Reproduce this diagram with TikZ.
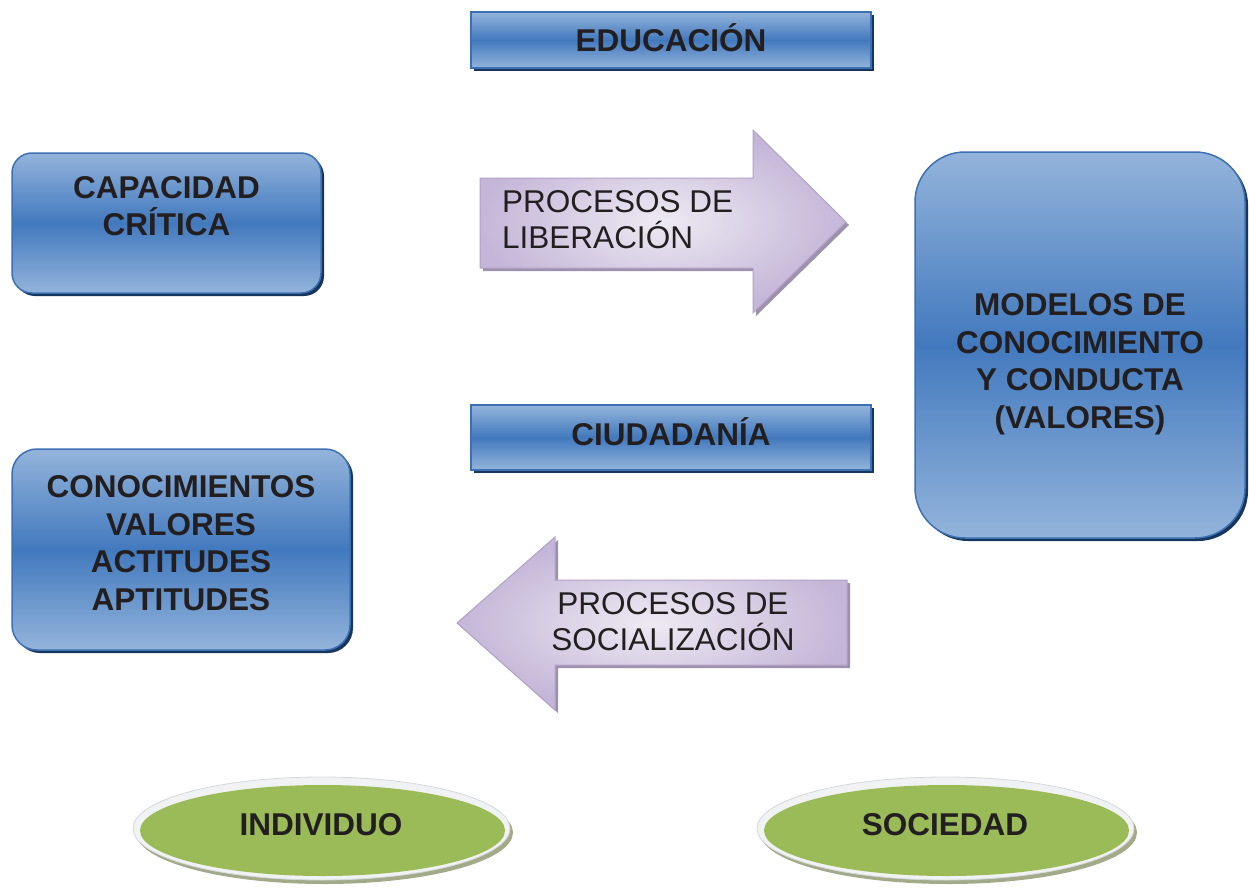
\documentclass[tikz,border=0pt]{standalone}
\usepackage{fontspec}
\setmainfont{Liberation Sans}
\usetikzlibrary{shadows,shapes.geometric}
\definecolor{bluetop}{HTML}{93B4DB}
\definecolor{bluemid}{HTML}{4279BE}
\definecolor{blueedge}{HTML}{3D70B3}
\definecolor{blueshadow}{HTML}{17365D}
\definecolor{lavlight}{HTML}{EEEAF3}
\definecolor{lavdark}{HTML}{C4B6D8}
\definecolor{lavedge}{HTML}{B3A2C7}
\definecolor{lavshadow}{HTML}{9D91AD}
\definecolor{greenfill}{HTML}{9BBB59}
\definecolor{rimc}{HTML}{F1F2F3}
\definecolor{rimedge}{HTML}{D5D8DB}
\definecolor{greenshadow}{HTML}{A2AA8A}
\definecolor{textc}{HTML}{231F20}
\begin{document}
\begin{tikzpicture}[x=1pt,y=-1pt,
  bluebox/.style={draw=blueedge, line width=1.5pt, top color=bluetop, bottom color=bluetop, middle color=bluemid, inner sep=0pt,
    general shadow={fill=blueshadow, shadow xshift=3pt, shadow yshift=-3pt}},
  boldtxt/.style={font=\fontsize{31.5}{37.5}\selectfont\bfseries, text=textc, align=center, inner sep=0pt},
  plaintxt/.style={font=\fontsize{31.5}{36}\selectfont, text=textc, inner sep=0pt},
  lavarrow/.style={draw=lavedge, line width=1pt, inner color=lavlight, outer color=lavdark,
    general shadow={fill=lavshadow, shadow xshift=3pt, shadow yshift=-3pt}},
  rimell/.style={ellipse, draw=rimedge, line width=0.8pt, fill=rimc, inner sep=0pt, minimum width=377pt, minimum height=103pt,
    general shadow={fill=greenshadow, shadow xshift=3pt, shadow yshift=-4pt}},
  greenell/.style={ellipse, fill=greenfill, inner sep=0pt, minimum width=365pt, minimum height=91pt}
]
\useasboundingbox (0,0) rectangle (1249,888);

% blue boxes
\node[bluebox, minimum width=400pt, minimum height=56pt] (edu) at (671,40) {};
\node[boldtxt] (eduT) at (671,38) {EDUCACIÓN};
\node[bluebox, minimum width=400pt, minimum height=65pt] (ciu) at (671,437.5) {};
\node[boldtxt] (ciuT) at (671,432) {CIUDADANÍA};
\node[bluebox, rounded corners=20pt, minimum width=309pt, minimum height=140pt] (cap) at (166.5,223) {};
\node[boldtxt] (capT) at (166.5,206) {CAPACIDAD\\CRÍTICA};
\node[bluebox, rounded corners=25pt, minimum width=338pt, minimum height=201pt] (con) at (181,549.5) {};
\node[boldtxt] (conT) at (181,543) {CONOCIMIENTOS\\VALORES\\ACTITUDES\\APTITUDES};
\node[bluebox, rounded corners=50pt, minimum width=330pt, minimum height=386pt] (mod) at (1080,345) {};
\node[boldtxt] (modT) at (1080,364.5) {MODELOS DE\\CONOCIMIENTO\\Y CONDUCTA\\(VALORES)};

% arrows
\path[lavarrow] (480,178) -- (753,178) -- (753,130) -- (846,222) -- (753,313) -- (753,268) -- (480,268) -- cycle;
\node[plaintxt, align=left, anchor=west] (libT) at (502,220) {PROCESOS DE\\LIBERACIÓN};
\path[lavarrow] (847,580) -- (555,580) -- (555,537) -- (457,623) -- (555,710) -- (555,665) -- (847,665) -- cycle;
\node[plaintxt, align=center] (socT) at (673,622) {PROCESOS DE\\SOCIALIZACIÓN};

% ellipses
\node[rimell] (indR) at (321.5,828.5) {};
\node[greenell] (ind) at (322.5,830.5) {};
\node[boldtxt] (indT) at (321,825) {INDIVIDUO};
\node[rimell] (socR) at (945.5,828.5) {};
\node[greenell] (soc) at (946.5,830.5) {};
\node[boldtxt] (socT2) at (945,825) {SOCIEDAD};
\end{tikzpicture}
\end{document}
